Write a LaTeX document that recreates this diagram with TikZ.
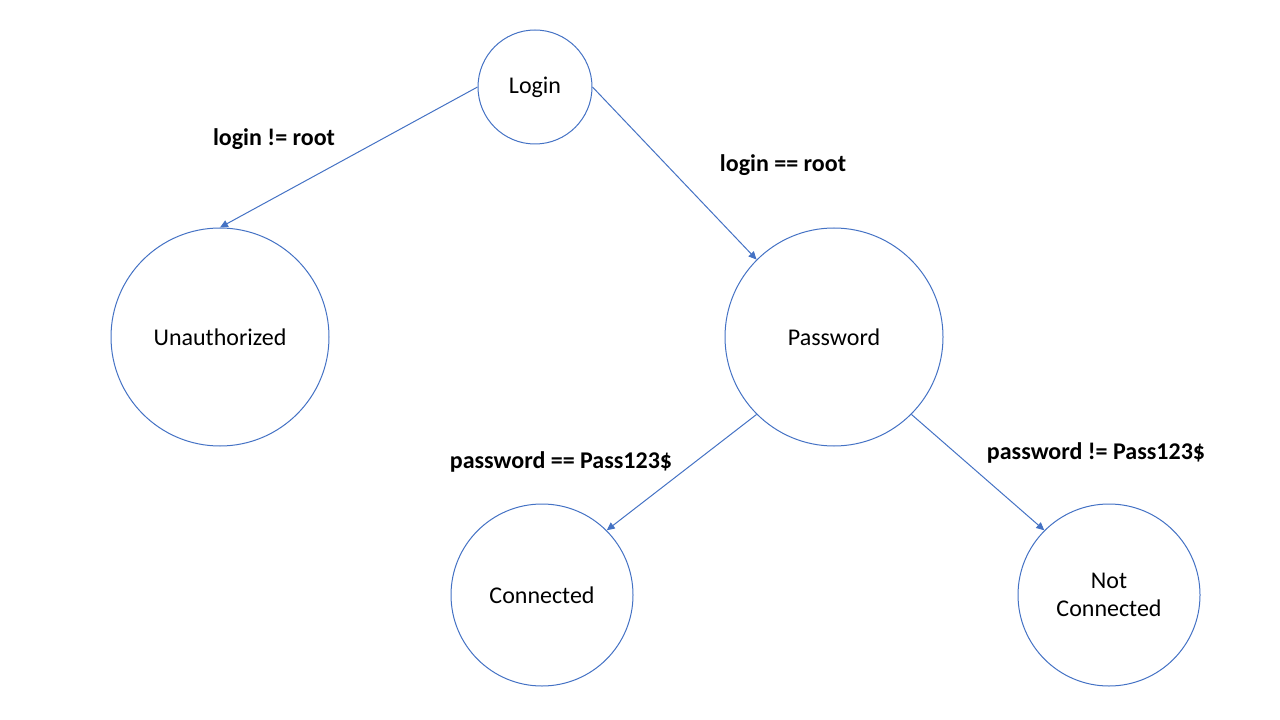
\documentclass[tikz,border=0pt]{standalone}
\usepackage{fontspec}
\setmainfont{Carlito}
\usetikzlibrary{arrows.meta}
\definecolor{edgeblue}{HTML}{4472C4}
\begin{document}
\begin{tikzpicture}[x=0.75pt,y=-0.75pt,
  state/.style={circle,draw=edgeblue,line width=0.75pt,inner sep=0pt,align=center,
    font=\fontsize{18}{21}\selectfont},
  small/.style={state,minimum size=85.5pt},
  big/.style={state,minimum size=163.5pt},
  mid/.style={state,minimum size=136.5pt},
  trans/.style={draw=edgeblue,line width=0.75pt,-{Triangle[length=6pt,width=5.5pt]}},
  cond/.style={font=\fontsize{18}{21}\selectfont\bfseries,inner sep=0pt}]
\useasboundingbox (0,0) rectangle (1280,720);
\node[small] (login) at (535,87) {Login};
\node[big] (unauth) at (220,337) {Unauthorized};
\node[big] (pass) at (834,337) {Password};
\node[mid] (conn) at (542,595) {Connected};
\node[mid] (nconn) at (1109,595) {Not\\Connected};
\draw[trans] (login.west) -- (unauth.north);
\draw[trans] (login.east) -- (pass.north west);
\draw[trans] (pass.south west) -- (conn.north east);
\draw[trans] (pass.south east) -- (nconn.north west);
\node[cond] (l1) at (274,139) {login != root};
\node[cond] (l2) at (783,165) {login == root};
\node[cond] (l3) at (561,462) {password == Pass123\$};
\node[cond] (l4) at (1096,453) {password != Pass123\$};
\end{tikzpicture}
\end{document}
